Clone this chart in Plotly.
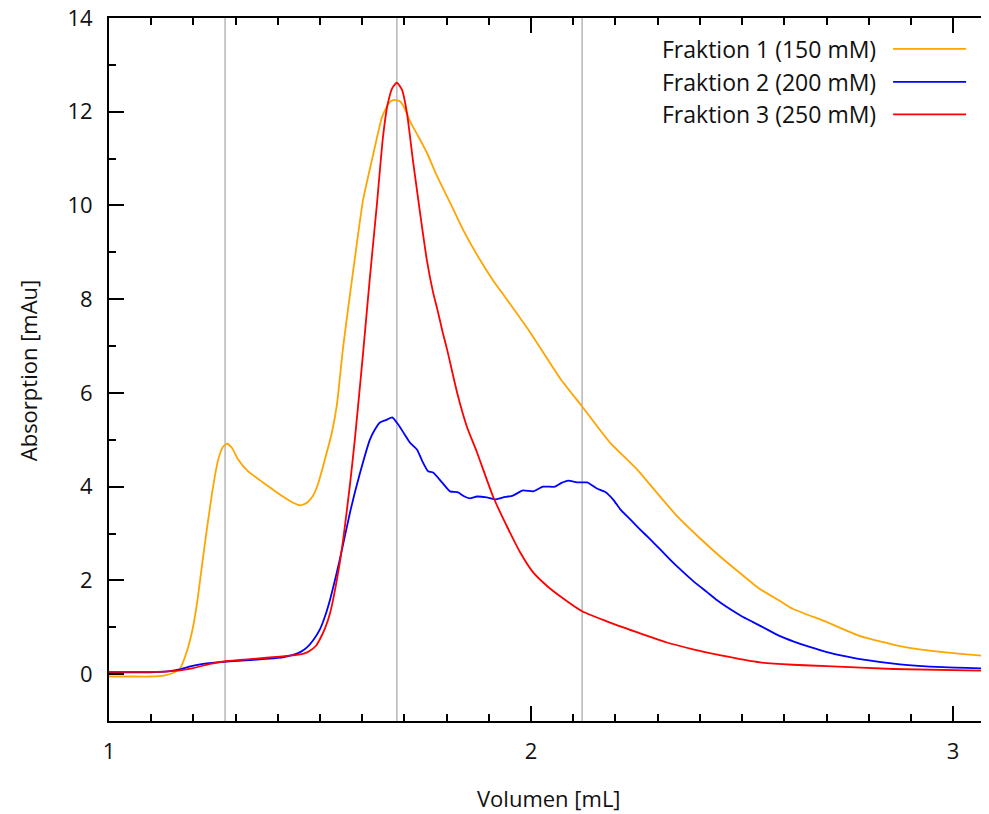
import plotly.graph_objects as go

# ---- data ----
x_f1 = [1.0, 1.05, 1.10, 1.13, 1.15, 1.168, 1.185, 1.199, 1.21, 1.22, 1.232, 1.244, 1.258, 1.270, 1.28,
        1.292, 1.306, 1.329, 1.365, 1.412, 1.44, 1.453, 1.468, 1.483, 1.495, 1.507, 1.528, 1.54, 1.555,
        1.578, 1.602, 1.623, 1.647, 1.662, 1.673, 1.690, 1.700, 1.713, 1.733, 1.753, 1.777, 1.808,
        1.839, 1.879, 1.91, 1.943, 1.998, 2.069, 2.121, 2.187, 2.251, 2.30, 2.346, 2.40, 2.448, 2.50,
        2.543, 2.59, 2.621, 2.701, 2.78, 2.874, 2.976, 3.085]
y_f1 = [-0.05, -0.05, -0.05, -0.03, 0.02, 0.12, 0.5, 1.0, 1.6, 2.3, 3.1, 3.85, 4.55, 4.85, 4.92,
        4.82, 4.58, 4.33, 4.09, 3.79, 3.64, 3.60, 3.65, 3.80, 4.05, 4.43, 5.15, 5.75, 7.0,
        8.57, 10.12, 10.97, 11.89, 12.17, 12.25, 12.22, 12.08, 11.80, 11.47, 11.13, 10.63, 10.06,
        9.48, 8.84, 8.40, 7.99, 7.29, 6.31, 5.71, 4.94, 4.37, 3.85, 3.37, 2.90, 2.51, 2.12,
        1.81, 1.56, 1.39, 1.11, 0.81, 0.60, 0.47, 0.38]

x_f2 = [1.0, 1.05, 1.097, 1.14, 1.168, 1.19, 1.216, 1.256, 1.334, 1.412, 1.436, 1.455, 1.469, 1.485,
        1.50, 1.512, 1.524, 1.547, 1.571, 1.595, 1.618, 1.630, 1.642, 1.656, 1.671, 1.685, 1.70,
        1.713, 1.73, 1.742, 1.756, 1.768, 1.79, 1.808, 1.827, 1.84, 1.855, 1.872, 1.895, 1.915,
        1.934, 1.957, 1.981, 2.005, 2.028, 2.057, 2.072, 2.088, 2.109, 2.133, 2.156, 2.175, 2.195,
        2.211, 2.235, 2.258, 2.282, 2.306, 2.33, 2.353, 2.385, 2.417, 2.44, 2.464, 2.50, 2.526,
        2.56, 2.59, 2.621, 2.66, 2.701, 2.74, 2.78, 2.874, 2.976, 3.085]
y_f2 = [0.04, 0.04, 0.04, 0.06, 0.10, 0.16, 0.21, 0.25, 0.30, 0.36, 0.41, 0.48, 0.57, 0.74,
        0.96, 1.24, 1.60, 2.45, 3.45, 4.30, 5.00, 5.22, 5.37, 5.42, 5.48, 5.33, 5.12,
        4.94, 4.79, 4.55, 4.33, 4.30, 4.08, 3.90, 3.88, 3.80, 3.75, 3.79, 3.77, 3.73,
        3.77, 3.81, 3.92, 3.90, 4.00, 4.00, 4.08, 4.13, 4.09, 4.09, 3.96, 3.89, 3.72,
        3.52, 3.30, 3.09, 2.88, 2.66, 2.44, 2.24, 1.98, 1.75, 1.58, 1.43, 1.23, 1.11,
        0.95, 0.81, 0.70, 0.58, 0.47, 0.39, 0.32, 0.21, 0.15, 0.12]

x_f3 = [1.0, 1.05, 1.097, 1.14, 1.168, 1.20, 1.24, 1.28, 1.334, 1.412, 1.445, 1.465, 1.476, 1.49,
        1.50, 1.512, 1.524, 1.543, 1.555, 1.571, 1.583, 1.602, 1.618, 1.635, 1.649, 1.66,
        1.672, 1.682, 1.694, 1.706, 1.72, 1.737, 1.753, 1.768, 1.777, 1.791, 1.801, 1.825, 1.848,
        1.872, 1.91, 1.943, 1.974, 2.005, 2.038, 2.069, 2.121, 2.187, 2.265, 2.32, 2.384, 2.45,
        2.543, 2.62, 2.701, 2.858, 3.085]
y_f3 = [0.05, 0.05, 0.05, 0.06, 0.08, 0.13, 0.22, 0.28, 0.32, 0.38, 0.41, 0.45, 0.50, 0.60,
        0.75, 0.98, 1.31, 2.17, 2.88, 4.05, 5.05, 6.85, 8.45, 10.05, 11.45, 12.15,
        12.52, 12.62, 12.47, 11.97, 10.97, 9.84, 8.84, 8.14, 7.82, 7.28, 6.93, 6.00, 5.28,
        4.73, 3.79, 3.15, 2.60, 2.17, 1.88, 1.66, 1.34, 1.10, 0.85, 0.68, 0.53, 0.40,
        0.25, 0.20, 0.17, 0.11, 0.07]

series_names = ["Fraktion 1 (150 mM)", "Fraktion 2 (200 mM)", "Fraktion 3 (250 mM)"]
series_colors = ["#FFA500", "#0000FF", "#FF0000"]
marker_lines = [1.275, 1.682, 2.121]
x_ticks = [1, 2, 3]
y_ticks = [0, 2, 4, 6, 8, 10, 12, 14]
x_title = "Volumen [mL]"
y_title = "Absorption [mAu]"

FONT = "Open Sans"
FS = 22

fig = go.Figure()
for xs, ys, name, col in zip([x_f1, x_f2, x_f3], [y_f1, y_f2, y_f3], series_names, series_colors):
    fig.add_trace(go.Scatter(x=xs, y=ys, mode="lines", name=name,
                             line=dict(color=col, width=1.8, shape="spline", smoothing=0.5),
                             showlegend=False))

for xv in marker_lines:
    fig.add_vline(x=xv, line=dict(color="#BBBBBB", width=1.6), layer="below")

# legend (text right-aligned, sample line on the right)
leg_y = [0.956, 0.909, 0.863]
for name, col, yy in zip(series_names, series_colors, leg_y):
    fig.add_annotation(x=0.874, y=yy, xref="paper", yref="paper", text=name,
                       showarrow=False, xanchor="right", yanchor="middle",
                       font=dict(family=FONT, size=23, color="#111111"))
    fig.add_shape(type="line", xref="paper", yref="paper", x0=0.891, x1=0.974, y0=yy, y1=yy,
                  line=dict(color=col, width=1.8))

# axis titles
fig.add_annotation(x=0.5, y=-0.109, xref="paper", yref="paper", text=x_title, showarrow=False,
                   xanchor="center", yanchor="middle", font=dict(family=FONT, size=FS, color="#111111"))
fig.add_annotation(x=-0.092, y=0.499, xref="paper", yref="paper", text=y_title, showarrow=False,
                   textangle=-90, xanchor="center", yanchor="middle",
                   font=dict(family=FONT, size=FS, color="#111111"))

fig.update_layout(
    width=981, height=806,
    margin=dict(l=101, r=0, t=10, b=93),
    paper_bgcolor="white", plot_bgcolor="white",
    font=dict(family=FONT, size=FS, color="#111111"),
)
fig.update_xaxes(
    range=[1, 3.085], tickvals=x_ticks, ticktext=[str(v) for v in x_ticks],
    ticks="inside", ticklen=15, tickwidth=1.5, tickcolor="black",
    showline=True, linecolor="black", linewidth=2, mirror="ticks",
    showgrid=False, zeroline=False, automargin=False, ticklabeloverflow="allow",
    minor=dict(dtick=0.1, ticks="inside", ticklen=7, tickwidth=1.5, tickcolor="black", showgrid=False),
    ticklabelstandoff=10,
)
fig.update_yaxes(
    range=[-1, 14], tickvals=y_ticks, ticktext=[str(v) for v in y_ticks],
    ticks="inside", ticklen=15, tickwidth=1.5, tickcolor="black",
    showline=True, linecolor="black", linewidth=2, mirror=False,
    showgrid=False, zeroline=False, automargin=False, ticklabeloverflow="allow",
    minor=dict(dtick=1, ticks="inside", ticklen=7, tickwidth=1.5, tickcolor="black", showgrid=False),
    ticklabelstandoff=10,
)

fig.write_html("out.html")
